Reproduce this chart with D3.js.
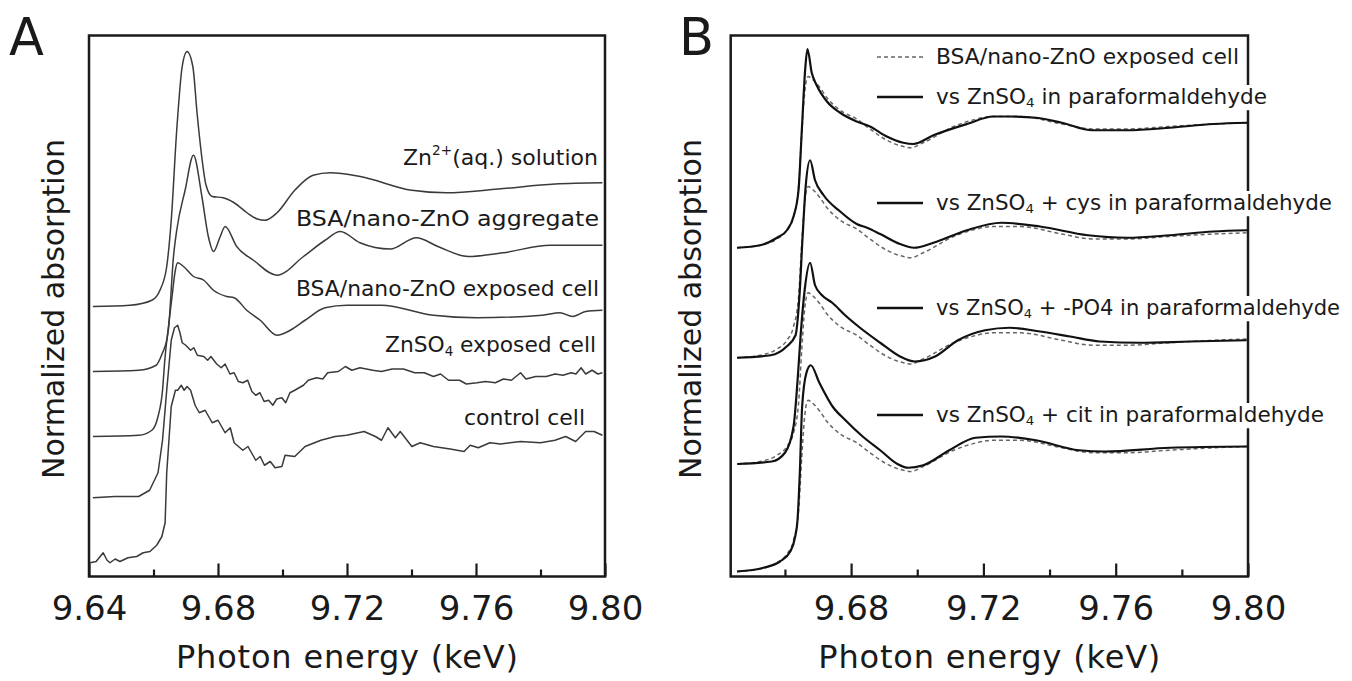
<!DOCTYPE html>
<html>
<head>
<meta charset="utf-8">
<script src="https://cdnjs.cloudflare.com/ajax/libs/d3/7.8.5/d3.min.js"></script>
<style>
  body { margin: 0; background: #fff; }
  svg text { font-family: "DejaVu Sans", sans-serif; fill: #1a1a1a; }
</style>
</head>
<body>
<div class="chart"></div>
<script>
// Energy in eV, value = normalized absorption (edge jump = 1)

// Panel A
var znAqueous = [[9641.2,0.01],[9652.7,0.02],[9659.5,0.06],[9662.0,0.14],[9664.1,0.33],[9665.5,0.70],[9667.2,1.42],[9668.9,1.93],[9670.4,2.05],[9672.2,1.93],[9673.5,1.56],[9675.1,1.18],[9676.2,0.99],[9678.2,0.89],[9681.6,0.88],[9685.0,0.84],[9689.0,0.76],[9692.2,0.71],[9694.6,0.70],[9698.3,0.76],[9703.8,0.94],[9709.5,1.06],[9714.8,1.08],[9724.1,1.05],[9740.1,0.94],[9750.8,0.92],[9766.9,0.95],[9784.5,0.99],[9799.2,1.00]];
var bsaAggregate = [[9641.2,0.01],[9655.4,0.02],[9660.8,0.06],[9662.8,0.16],[9664.1,0.26],[9664.6,0.34],[9666.2,0.93],[9667.2,1.14],[9669.8,1.46],[9672.4,1.74],[9675.0,1.41],[9677.0,1.09],[9678.6,0.97],[9680.7,1.09],[9682.2,1.17],[9685.8,1.01],[9691.0,0.90],[9698.3,0.78],[9706.5,0.93],[9713.2,1.06],[9717.9,1.13],[9724.0,1.04],[9733.4,0.99],[9741.5,1.08],[9748.2,1.01],[9757.6,0.93],[9768.4,0.96],[9783.1,1.02],[9799.2,1.02]];
var bsaCell = [[9641.2,0.00],[9655.4,0.01],[9659.5,0.05],[9661.4,0.16],[9662.8,0.37],[9663.5,0.61],[9664.5,0.85],[9665.8,1.13],[9666.7,1.32],[9667.5,1.39],[9669.3,1.36],[9672.4,1.28],[9675.6,1.25],[9678.6,1.17],[9682.7,1.12],[9685.0,1.11],[9688.9,1.01],[9693.1,0.93],[9698.3,0.81],[9702.4,0.85],[9707.0,0.93],[9713.2,1.03],[9720.0,1.05],[9730.6,1.05],[9746.8,0.97],[9760.3,0.95],[9780.5,0.97],[9786.0,0.99],[9790.0,0.96],[9794.0,1.00],[9799.2,1.01]];
var znso4Cell = [[9641.2,0.00],[9648.0,0.01],[9655.4,0.01],[9658.8,0.06],[9661.4,0.20],[9662.8,0.46],[9664.1,0.86],[9665.5,1.26],[9666.5,1.36],[9667.5,1.38],[9668.2,1.32],[9668.9,1.24],[9670.0,1.22],[9671.5,1.18],[9672.5,1.20],[9673.6,1.14],[9675.6,1.13],[9676.8,1.10],[9677.8,1.13],[9679.6,1.07],[9681.0,1.04],[9682.2,1.07],[9683.7,0.99],[9685.0,1.00],[9686.3,0.93],[9687.7,0.92],[9689.2,0.94],[9690.5,0.85],[9691.7,0.82],[9693.0,0.84],[9694.3,0.77],[9695.7,0.78],[9697.0,0.74],[9698.2,0.79],[9699.8,0.80],[9701.0,0.76],[9702.3,0.84],[9703.8,0.86],[9706.5,0.90],[9708.0,0.94],[9710.5,0.96],[9712.5,0.95],[9714.0,1.00],[9717.3,1.01],[9719.5,1.05],[9721.5,1.02],[9724.0,1.04],[9728.0,1.02],[9730.7,1.01],[9734.0,1.03],[9737.5,1.03],[9741.0,1.00],[9744.0,1.00],[9746.8,0.97],[9749.0,0.99],[9751.5,0.94],[9754.9,0.94],[9757.0,0.91],[9760.3,0.92],[9763.0,0.93],[9766.0,0.92],[9768.5,0.95],[9771.0,0.94],[9773.8,1.00],[9775.5,0.95],[9778.5,0.97],[9781.8,0.97],[9784.5,0.99],[9787.0,0.98],[9789.5,1.00],[9791.0,0.99],[9792.6,1.04],[9794.0,0.99],[9796.0,1.02],[9797.8,0.99],[9799.2,1.00]];
var controlCell = [[9640.3,-0.02],[9642.2,-0.01],[9644.4,0.06],[9645.6,0.00],[9646.5,-0.02],[9648.1,0.01],[9649.6,-0.01],[9652.1,0.02],[9654.8,0.03],[9656.8,0.06],[9658.9,0.07],[9661.0,0.12],[9662.6,0.19],[9663.6,0.30],[9664.1,0.70],[9665.5,1.23],[9666.8,1.36],[9667.5,1.36],[9668.6,1.40],[9669.5,1.36],[9670.4,1.39],[9671.5,1.36],[9672.9,1.24],[9674.2,1.18],[9676.0,1.20],[9678.2,1.10],[9680.0,1.12],[9682.2,1.02],[9683.8,1.06],[9685.0,0.94],[9687.7,0.88],[9689.3,0.91],[9691.7,0.80],[9693.1,0.83],[9694.4,0.76],[9696.2,0.79],[9697.7,0.74],[9699.8,0.75],[9700.8,0.84],[9703.8,0.83],[9707.0,0.91],[9711.9,0.96],[9716.3,0.99],[9719.9,1.00],[9725.3,1.03],[9728.8,0.99],[9730.7,0.96],[9732.7,1.06],[9735.0,0.98],[9736.5,1.03],[9740.1,0.91],[9742.7,0.94],[9746.8,0.91],[9752.0,0.89],[9756.3,0.87],[9758.2,0.92],[9760.7,0.90],[9764.3,0.94],[9767.6,0.93],[9773.8,0.95],[9780.0,0.94],[9784.5,0.96],[9787.8,0.99],[9790.9,0.95],[9794.0,1.03],[9796.6,1.03],[9799.2,1.00]];

var seriesA = [znAqueous, bsaAggregate, bsaCell, znso4Cell, controlCell];
var noisyA = [false, false, false, true, true];
var offsetsA = [2.15, 1.63, 1.12, 0.63, 0.13];
var labelsA = [
  [{t: "Zn"}, {t: "2+", sup: true}, {t: "(aq.) solution"}],
  [{t: "BSA/nano-ZnO aggregate"}],
  [{t: "BSA/nano-ZnO exposed cell"}],
  [{t: "ZnSO"}, {t: "4", sub: true}, {t: " exposed cell"}],
  [{t: "control cell"}]
];

// Panel B: measured cell spectrum (dashed) vs the four fits (solid)
var cellMeasured = [[9645.5,0.00],[9652.5,0.02],[9657.6,0.07],[9660.6,0.14],[9662.6,0.25],[9664.1,0.48],[9665.1,0.92],[9666.0,1.25],[9667.0,1.37],[9668.2,1.35],[9670.6,1.28],[9672.7,1.20],[9676.7,1.10],[9681.7,1.03],[9685.7,0.95],[9690.8,0.86],[9695.8,0.81],[9698.0,0.80],[9701.8,0.84],[9711.0,0.97],[9718.0,1.03],[9723.0,1.05],[9731.0,1.05],[9743.7,0.99],[9753.0,0.95],[9763.0,0.95],[9776.0,0.97],[9790.0,0.99],[9800.0,1.00]];
var fitZnso4 = [[9645.5,0.00],[9652.5,0.02],[9657.6,0.08],[9660.6,0.14],[9662.6,0.25],[9664.1,0.46],[9665.1,0.94],[9666.1,1.42],[9666.8,1.59],[9668.1,1.40],[9669.6,1.30],[9672.7,1.17],[9676.7,1.08],[9681.7,1.01],[9685.7,0.97],[9690.8,0.89],[9695.8,0.84],[9698.8,0.83],[9704.9,0.90],[9715.0,0.99],[9723.0,1.05],[9728.0,1.05],[9736.0,1.04],[9743.7,1.00],[9753.0,0.94],[9763.4,0.94],[9776.4,0.96],[9789.5,0.99],[9799.8,1.00]];
var fitCys = [[9645.5,0.00],[9655.7,0.02],[9660.5,0.09],[9663.2,0.18],[9664.4,0.50],[9665.3,0.95],[9666.3,1.38],[9667.6,1.58],[9669.1,1.42],[9671.7,1.30],[9676.7,1.17],[9681.7,1.07],[9684.8,1.04],[9688.8,0.99],[9694.8,0.91],[9699.0,0.88],[9704.9,0.92],[9715.0,1.02],[9725.4,1.08],[9737.1,1.05],[9751.6,0.98],[9763.4,0.96],[9776.4,0.98],[9789.5,1.01],[9799.8,1.02]];
var fitPo4 = [[9645.6,0.00],[9656.0,0.02],[9660.0,0.09],[9662.6,0.30],[9663.9,0.70],[9664.8,1.05],[9666.0,1.40],[9667.6,1.61],[9669.1,1.43],[9671.2,1.35],[9674.3,1.29],[9678.2,1.19],[9682.7,1.09],[9688.8,0.97],[9694.8,0.86],[9699.2,0.82],[9705.4,0.86],[9712.3,0.99],[9720.5,1.07],[9728.0,1.09],[9737.1,1.06],[9746.2,1.02],[9755.2,0.98],[9767.3,0.97],[9782.4,0.98],[9799.6,0.99]];
var fitCit = [[9645.5,0.00],[9653.5,0.03],[9658.5,0.08],[9661.6,0.16],[9663.1,0.28],[9663.8,0.41],[9664.5,0.79],[9665.2,1.32],[9666.5,1.59],[9667.8,1.65],[9670.4,1.51],[9674.4,1.32],[9678.3,1.21],[9683.5,1.08],[9688.8,0.97],[9694.0,0.86],[9697.3,0.83],[9701.8,0.85],[9709.7,0.97],[9717.6,1.07],[9725.4,1.08],[9735.9,1.05],[9748.9,0.97],[9756.7,0.96],[9776.4,0.99],[9799.8,1.00]];

var fitsB = [fitZnso4, fitCys, fitPo4, fitCit];
var offsetsB = [2.63, 1.75, 0.90, 0.04];
var legendB = [
  [{t: "BSA/nano-ZnO exposed cell"}],
  [{t: "vs ZnSO"}, {t: "4", sub: true}, {t: " in paraformaldehyde"}],
  [{t: "vs ZnSO"}, {t: "4", sub: true}, {t: " + cys in paraformaldehyde"}],
  [{t: "vs ZnSO"}, {t: "4", sub: true}, {t: " + -PO4 in paraformaldehyde"}],
  [{t: "vs ZnSO"}, {t: "4", sub: true}, {t: " + cit in paraformaldehyde"}]
];

var majorTicksA = [9.64, 9.68, 9.72, 9.76, 9.80];
var majorTicksB = [9.68, 9.72, 9.76, 9.80];
var minorTicks = [9.66, 9.70, 9.74, 9.78];

var svgWidth = 1352;
var svgHeight = 681;
var plotTop = 35.5;
var plotBottom = 576.5;

var svg = d3.select(".chart")
  .append("svg")
  .attr("width", svgWidth)
  .attr("height", svgHeight);

svg.append("rect")
  .attr("width", svgWidth)
  .attr("height", svgHeight)
  .attr("fill", "#fff");

var yScale = d3.scaleLinear()
  .domain([0, 4.328])
  .range([plotBottom, plotTop]);

var xScaleA = d3.scaleLinear().domain([9.64, 9.80]).range([89, 605]);
var xScaleB = d3.scaleLinear().domain([9.6436, 9.80]).range([730.7, 1248]);

// write a label made of plain / super / subscript pieces
function richText(sel, parts, size) {
  parts.forEach(function(p) {
    var span = sel.append("tspan").text(p.t);
    if (p.sup) span.attr("font-size", size * 0.62).attr("baseline-shift", "70%");
    if (p.sub) span.attr("font-size", size * 0.62).attr("baseline-shift", "-25%");
  });
}

function drawFrame(xScale, majorTicks, letter, letterX, yLabelX) {
  var left = xScale.range()[0];
  var right = xScale.range()[1];

  svg.append("rect")
    .attr("x", left)
    .attr("y", plotTop)
    .attr("width", right - left)
    .attr("height", plotBottom - plotTop)
    .attr("fill", "none")
    .attr("stroke", "#1a1a1a")
    .attr("stroke-width", 2.5);

  // major ticks with labels, pointing inward
  var majorAxis = d3.axisBottom(xScale)
    .tickValues(majorTicks)
    .tickSize(-13)
    .tickFormat(d3.format(".2f"));
  var gMajor = svg.append("g")
    .attr("transform", `translate(0, ${plotBottom})`)
    .call(majorAxis);
  gMajor.select(".domain").remove();
  gMajor.selectAll("line").attr("stroke", "#1a1a1a").attr("stroke-width", 2.2);
  gMajor.selectAll("text")
    .attr("y", 43.5)
    .attr("dy", 0)
    .attr("font-size", 34)
    .attr("font-family", "DejaVu Sans")
    .attr("fill", "#1a1a1a");

  var minorAxis = d3.axisBottom(xScale)
    .tickValues(minorTicks)
    .tickSize(-7)
    .tickFormat("");
  var gMinor = svg.append("g")
    .attr("transform", `translate(0, ${plotBottom})`)
    .call(minorAxis);
  gMinor.select(".domain").remove();
  gMinor.selectAll("line").attr("stroke", "#1a1a1a").attr("stroke-width", 2.2);

  // axis titles
  svg.append("text")
    .attr("x", (left + right) / 2)
    .attr("y", 668)
    .attr("text-anchor", "middle")
    .attr("font-size", 32)
    .attr("textLength", 342)
    .text("Photon energy (keV)");

  svg.append("text")
    .attr("transform", `translate(${yLabelX}, 309) rotate(-90)`)
    .attr("text-anchor", "middle")
    .attr("font-size", 30)
    .text("Normalized absorption");

  svg.append("text")
    .attr("x", letterX)
    .attr("y", 55)
    .attr("font-size", 51)
    .text(letter);
}

drawFrame(xScaleA, majorTicksA, "A", 9, 64);
drawFrame(xScaleB, majorTicksB, "B", 679, 701);

// Panel A curves
var lineA = function(offset, noisy) {
  return d3.line()
    .x(d => xScaleA(d[0] / 1000))
    .y(d => yScale(d[1] + offset))
    .curve(noisy ? d3.curveLinear : d3.curveMonotoneX);
};

seriesA.forEach(function(series, i) {
  svg.append("path")
    .datum(series)
    .attr("d", lineA(offsetsA[i], noisyA[i]))
    .attr("fill", "none")
    .attr("stroke", "#3a3a3a")
    .attr("stroke-width", 1.5)
    .attr("stroke-linejoin", "round");
});

var labelEndA = [598, 599, 599, 596, 585];
var labelBaseA = [165, 226, 296, 352, 425];
var labelWidthA = [195, 303, 303, 211, 121];
labelsA.forEach(function(parts, i) {
  var t = svg.append("text")
    .attr("x", labelEndA[i] - labelWidthA[i])
    .attr("y", labelBaseA[i])
    .attr("font-size", 22)
    .attr("textLength", labelWidthA[i])
    .attr("lengthAdjust", "spacingAndGlyphs");
  richText(t, parts, 22);
});

// Panel B curves
var lineB = function(offset) {
  return d3.line()
    .x(d => xScaleB(d[0] / 1000))
    .y(d => yScale(d[1] + offset))
    .curve(d3.curveMonotoneX);
};

offsetsB.forEach(function(offset, i) {
  svg.append("path")
    .datum(cellMeasured)
    .attr("d", lineB(offset))
    .attr("fill", "none")
    .attr("stroke", "#666")
    .attr("stroke-width", 1.5)
    .attr("stroke-dasharray", "4,3");
  svg.append("path")
    .datum(fitsB[i])
    .attr("d", lineB(offset))
    .attr("fill", "none")
    .attr("stroke", "#111")
    .attr("stroke-width", 2.2);
});

// legend of panel B
var legendY = [57, 97, 203, 308, 415];
var legendWidth = [303, 331, 396, 404, 388];
legendB.forEach(function(parts, i) {
  var g = svg.append("g");
  g.append("line")
    .attr("x1", 877)
    .attr("x2", 923)
    .attr("y1", legendY[i])
    .attr("y2", legendY[i])
    .attr("stroke", i === 0 ? "#666" : "#111")
    .attr("stroke-width", i === 0 ? 1.5 : 2.4)
    .attr("stroke-dasharray", i === 0 ? "4,3" : null);
  var bg = g.append("rect").attr("fill", "#fff");
  var t = g.append("text")
    .attr("x", 936)
    .attr("y", legendY[i] + 7)
    .attr("font-size", 21)
    .attr("textLength", legendWidth[i])
    .attr("lengthAdjust", "spacingAndGlyphs");
  richText(t, parts, 21);
  var bb = t.node().getBBox();
  bg.attr("x", bb.x - 2).attr("y", bb.y)
    .attr("width", bb.width + 4).attr("height", bb.height);
});
</script>
</body>
</html>
